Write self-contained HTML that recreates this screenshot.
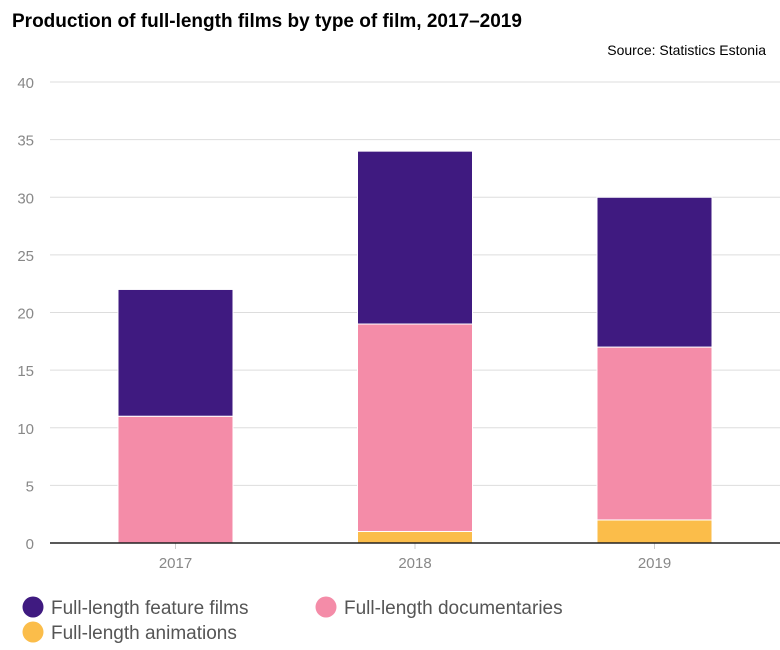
<!DOCTYPE html>
<html><head><meta charset="utf-8"><style>
body{margin:0;background:#fff;font-family:"Liberation Sans",sans-serif;}
svg{display:block}
</style></head><body>
<svg width="780" height="650">
<text x="12" y="27" font-size="19" font-weight="bold" fill="#000">Production of full-length films by type of film, 2017–2019</text>
<text x="766" y="55" font-size="14" text-anchor="end" fill="#000">Source: Statistics Estonia</text>
<g id="grid"></g><g id="bars"></g><g id="axes"></g>
<g>
<g><circle cx="33" cy="607" r="10.5" fill="#3f1a80"/><text x="51" y="614" font-size="19" fill="#555">Full-length feature films</text></g>
<g><circle cx="326" cy="607" r="10.5" fill="#f48ca8"/><text x="344" y="614" font-size="19" fill="#555">Full-length documentaries</text></g>
<g><circle cx="33" cy="632" r="10.5" fill="#fbbd4a"/><text x="51" y="639" font-size="19" fill="#555">Full-length animations</text></g>
</g>
</svg>
<script>
const categories=["2017","2018","2019"];
const animations=[0,1,2];
const documentaries=[11,18,15];
const features=[11,15,13];
const yTicks=[0,5,10,15,20,25,30,35,40];
const NS="http://www.w3.org/2000/svg";
const y0=543,y40=82,xL=50,xR=780;
function y(v){return y0-(y0-y40)*v/40;}
function xc(i){return 175.5+i*239.5;}
const bw=115;
function mk(t,a,p){const e=document.createElementNS(NS,t);for(const k in a)e.setAttribute(k,a[k]);p.appendChild(e);return e;}
const grid=document.getElementById('grid'),bars=document.getElementById('bars'),axes=document.getElementById('axes');
yTicks.forEach(v=>{
 if(v>0){const l=mk('line',{x1:xL,x2:xR,y1:y(v),y2:y(v),stroke:'#ddd','stroke-width':1},grid);
 
 }
 const t=mk('text',{x:34,y:y(v)+6,'font-size':15,'text-anchor':'end',fill:'#888'},axes);
 t.textContent=v;
 
 
});
const series=[[animations,'#fbbd4a','animations'],[documentaries,'#f48ca8','documentaries'],[features,'#3f1a80','feature']];
categories.forEach((c,i)=>{
 let base=0;
 series.forEach(([arr,col,nm])=>{
  const v=arr[i];
  if(v>0){const r=mk('rect',{x:xc(i)-bw/2,y:y(base+v),width:bw,height:y(base)-y(base+v),fill:col,stroke:'#fff','stroke-width':1},bars);
  
  }
  base+=v;
 });
 mk('line',{x1:xc(i),x2:xc(i),y1:y0,y2:y0+6,stroke:'#ccc'},axes);
 const t=mk('text',{x:xc(i),y:568,'font-size':15,'text-anchor':'middle',fill:'#888'},axes);
 t.textContent=c;
 
 
});
const ax=mk('line',{x1:xL,x2:xR,y1:y0,y2:y0,stroke:'#222','stroke-width':1.5},axes);


</script>
</body></html>
